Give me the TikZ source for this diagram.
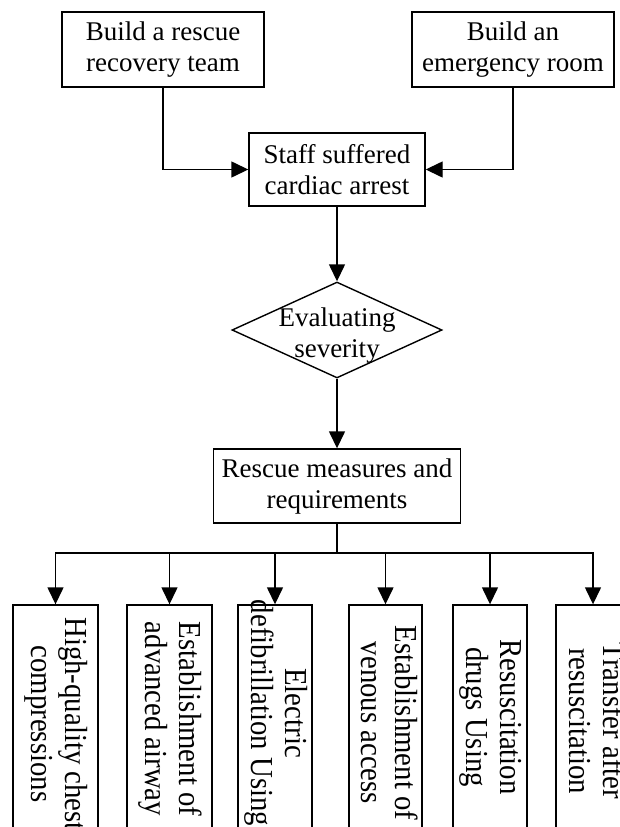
\documentclass[tikz,border=0pt]{standalone}
\usepackage{fontspec}
\setmainfont{Liberation Serif}
\usetikzlibrary{shapes.geometric,arrows.meta}
\newcommand{\vlines}[2]{\scalebox{0.9}[1]{\begin{tabular}{@{}c@{}}#1\\#2\end{tabular}}}
\begin{document}
\begin{tikzpicture}[x=1pt,y=-1pt, line width=1.4pt,
  box/.style={draw, rectangle, inner sep=0pt, align=center, font=\fontsize{27}{31}\selectfont},
  vbox/.style={draw, rectangle, inner sep=0pt, minimum height=226},
  vtext/.style={rotate=-90, inner sep=0pt, font=\fontsize{32}{34}\selectfont},
  arr/.style={-{Triangle[length=17pt,width=16pt]}},
]
\path[use as bounding box] (0,0) rectangle (620,827);
\clip (0,0) rectangle (620,827);
\node[box, minimum width=202, minimum height=75] (a) at (163,49.5) {Build a rescue\\recovery team};
\node[box, minimum width=202, minimum height=75] (b) at (513,49.5) {Build an\\emergency room};
\node[box, minimum width=176, minimum height=73] (s) at (337,169.5) {Staff suffered\\cardiac arrest};
\node[draw, diamond, minimum width=210, minimum height=96, inner sep=0pt,
  label={[font=\fontsize{27}{31}\selectfont, align=center, yshift=-6pt]center:Evaluating\\severity}] (d) at (337,330) {};
\node[box, minimum width=247, minimum height=74] (r) at (337,486) {Rescue measures and\\requirements};
\coordinate (bus) at (337,553);
\node[vbox, minimum width=85, label={[vtext, xshift=6pt]center:\vlines{High-quality chest}{compressions}}] (c1) at (55.5,718) {};
\node[vbox, minimum width=85, label={[vtext, xshift=1pt]center:\vlines{Establishment of}{advanced airway}}] (c2) at (169.5,718) {};
\node[vbox, minimum width=74, label={[vtext, xshift=-5pt]center:\vlines{Electric}{defibrillation Using}}] (c3) at (275,718) {};
\node[vbox, minimum width=73, label={[vtext, xshift=5pt]center:\vlines{Establishment of}{venous access}}] (c4) at (385.5,718) {};
\node[vbox, minimum width=74, label={[vtext, xshift=-1pt]center:\vlines{Resuscitation}{drugs Using}}] (c5) at (490,718) {};
\node[vbox, minimum width=74, label={[vtext, xshift=3pt]center:\vlines{Transfer after}{resuscitation}}] (c6) at (593,718) {};
\draw[arr] (a.south) |- (s.west);
\draw[arr] (b.south) |- (s.east);
\draw[arr] (s.south) -- (d.north);
\draw[arr] (d.south) -- (r.north);
\draw (r.south) -- (bus);
\draw[arr] (bus) -| (c1.north);
\draw[arr] (bus) -| (c6.north);
\draw[arr] (c2.north |- bus) -- (c2.north);
\draw[arr] (c3.north |- bus) -- (c3.north);
\draw[arr] (c4.north |- bus) -- (c4.north);
\draw[arr] (c5.north |- bus) -- (c5.north);
\end{tikzpicture}
\end{document}
